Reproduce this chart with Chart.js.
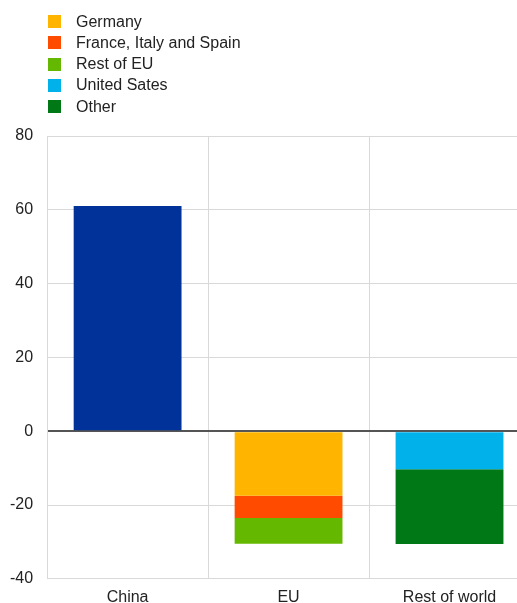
<!DOCTYPE html>
<html>
<head>
<meta charset="utf-8">
<script src="https://cdn.jsdelivr.net/npm/chart.js@4"></script>
<style>
  html, body { margin: 0; padding: 0; background: #fff; overflow: hidden; }
  #wrap { position: relative; width: 517px; height: 603px; overflow: hidden; }
  #box { position: absolute; left: -14px; top: 0; width: 546px; height: 620px; }
  #legend { position: absolute; left: 48px; top: 11px; font: 16px "Liberation Sans", Arial, sans-serif; color: #222; }
  .item { height: 21.25px; display: flex; align-items: center; }
  .sw { width: 13px; height: 13px; margin-right: 15px; }
</style>
</head>
<body>
<div id="wrap">
  <div id="box"><canvas id="chart"></canvas></div>
  <div id="legend"></div>
</div>
<script>
// categories and values
const categories = ['China', 'EU', 'Rest of world'];
const china = [61, null, null];
const germany = [null, -17.5, null];
const franceItalySpain = [null, -6, null];
const restOfEU = [null, -7, null];
const unitedStates = [null, null, -10.3];
const other = [null, null, -20.3];
const yTicks = [-40, -20, 0, 20, 40, 60, 80];

const font = "'Liberation Sans', Arial, sans-serif";

const datasets = [
    { label: 'China', data: china, backgroundColor: '#003299', hideInLegend: true },
    { label: 'Germany', data: germany, backgroundColor: '#FFB400' },
    { label: 'France, Italy and Spain', data: franceItalySpain, backgroundColor: '#FF4B00' },
    { label: 'Rest of EU', data: restOfEU, backgroundColor: '#65B800' },
    { label: 'United Sates', data: unitedStates, backgroundColor: '#00B1EA' },
    { label: 'Other', data: other, backgroundColor: '#007816' }
].map(d => Object.assign(d, { barPercentage: 0.67, categoryPercentage: 1, borderWidth: 0 }));

// legend as plain html, one item per line
document.getElementById('legend').innerHTML = datasets
    .filter(d => !d.hideInLegend)
    .map(d => `<div class="item"><span class="sw" style="background:${d.backgroundColor}"></span>${d.label}</div>`)
    .join('');

new Chart(document.getElementById('chart'), {
    type: 'bar',
    data: { labels: categories, datasets: datasets },
    options: {
        responsive: true,
        maintainAspectRatio: false,
        animation: false,
        layout: { padding: { top: 136, left: 10, right: 2, bottom: 4 } },
        plugins: { legend: { display: false }, tooltip: { enabled: false } },
        scales: {
            x: {
                stacked: true,
                grid: { color: '#d9d9d9', drawTicks: false },
                border: { color: '#d9d9d9' },
                ticks: { color: '#222', font: { family: font, size: 16 }, padding: 9 }
            },
            y: {
                stacked: true,
                min: -40,
                max: 80,
                afterBuildTicks: axis => { axis.ticks = yTicks.map(v => ({ value: v })); },
                grid: {
                    drawTicks: false,
                    color: ctx => ctx.tick && ctx.tick.value === 0 ? '#555' : '#d9d9d9',
                    lineWidth: ctx => ctx.tick && ctx.tick.value === 0 ? 2 : 1
                },
                border: { color: '#d9d9d9' },
                ticks: { color: '#222', font: { family: font, size: 16 }, padding: 14 }
            }
        }
    }
});
</script>
</body>
</html>
